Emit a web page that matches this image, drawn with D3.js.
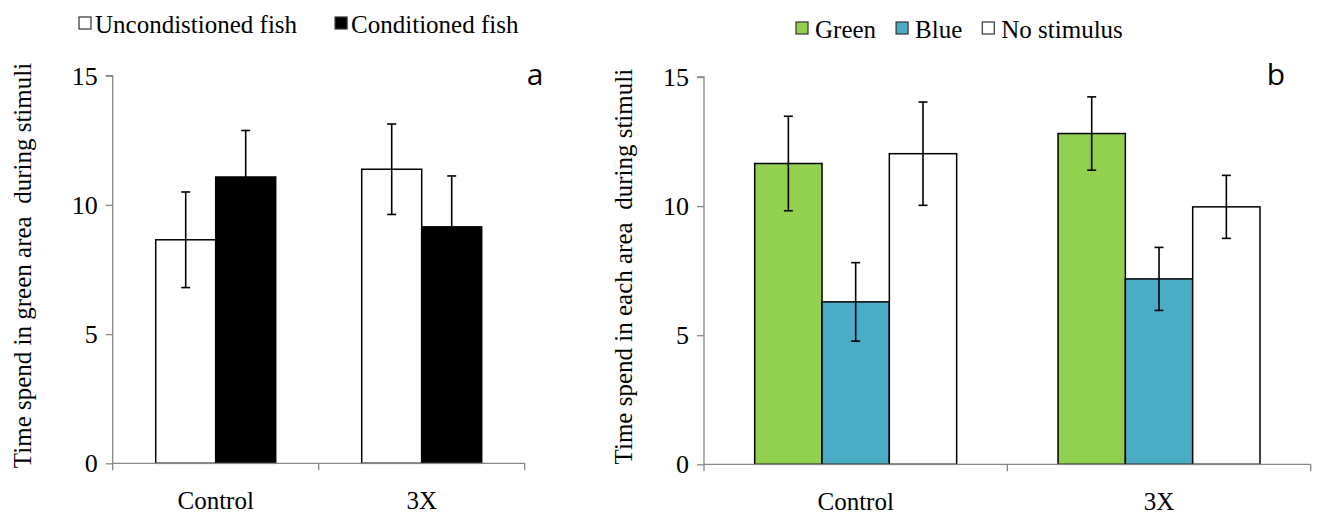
<!DOCTYPE html>
<html><head><meta charset="utf-8">
<script src="https://cdn.jsdelivr.net/npm/d3@7"></script>
<style>
html,body{margin:0;padding:0;background:#fff;}
svg text{font-family:"Liberation Serif","Times New Roman",serif !important;fill:#000;}
svg text.letter{font-family:"Open Sans","Liberation Sans",sans-serif !important;}
</style></head>
<body>
<svg id="c" width="1319" height="515"></svg>
<script>
// ---- data ----
const categories = ["Control", "3X"];
const yTicks = [0, 5, 10, 15];

const seriesA = ["Uncondistioned fish", "Conditioned fish"];
const valuesA_uncond = [8.65, 11.38];
const valuesA_cond   = [11.08, 9.15];
const errA_uncond    = [1.85, 1.75];
const errA_cond      = [1.80, 1.97];

const seriesB = ["Green", "Blue", "No stimulus"];
const valuesB_green = [11.65, 12.81];
const valuesB_blue  = [6.29, 7.18];
const valuesB_none  = [12.03, 9.97];
const errB_green    = [1.83, 1.42];
const errB_blue     = [1.52, 1.22];
const errB_none     = [2.0, 1.22];

const colorsA = ["#ffffff", "#000000"];
const colorsB = ["#92D050", "#4BACC6", "#ffffff"];

const svg = d3.select("#c");
const AXIS = "#868686";
const FS = 25;

function panel(opts) {
  const g = svg.append("g");
  const y = d3.scaleLinear().domain([0, 15]).range([opts.y0, opts.y15]);
  const x0 = d3.scaleBand().domain(categories).range([opts.xl, opts.xr]).padding(0);
  const x1 = d3.scaleBand().domain(opts.series).range([0, x0.bandwidth()]).paddingInner(0).paddingOuter(opts.pad);

  // bars
  opts.series.forEach((s, si) => {
    categories.forEach((c, ci) => {
      const v = opts.values[si][ci];
      g.append("rect")
        .attr("x", x0(c) + x1(s))
        .attr("y", y(v))
        .attr("width", x1.bandwidth())
        .attr("height", y(0) - y(v))
        .attr("fill", opts.colors[si])
        .attr("stroke", "#000").attr("stroke-width", 1.5);
    });
  });
  // error bars
  opts.series.forEach((s, si) => {
    categories.forEach((c, ci) => {
      const v = opts.values[si][ci], e = opts.errs[si][ci];
      const cx = x0(c) + x1(s) + x1.bandwidth() / 2;
      const eg = g.append("g").attr("stroke", "#000").attr("stroke-width", 1.6);
      eg.append("line").attr("x1", cx).attr("x2", cx).attr("y1", y(v + e)).attr("y2", y(v - e));
      eg.append("line").attr("x1", cx - 4.5).attr("x2", cx + 4.5).attr("y1", y(v + e)).attr("y2", y(v + e));
      eg.append("line").attr("x1", cx - 4.5).attr("x2", cx + 4.5).attr("y1", y(v - e)).attr("y2", y(v - e));
    });
  });

  // y axis
  const ya = g.append("g").attr("transform", `translate(${opts.xl},0)`)
    .call(d3.axisLeft(y).tickValues(yTicks).tickSize(7).tickPadding(8).tickFormat(d3.format("d")));
  ya.attr("font-family", null).attr("font-size", null);
  ya.select(".domain").attr("stroke", AXIS).attr("stroke-width", 1.3).attr("d", `M-7,${y(15)}H0V${y(0)}`);
  ya.selectAll(".tick line").attr("stroke", AXIS).attr("stroke-width", 1.3);
  ya.selectAll(".tick text").style("font-size", "26px").attr("fill", "#000");

  // x axis
  const xa = g.append("g");
  xa.append("line").attr("x1", opts.xl).attr("x2", opts.xr).attr("y1", y(0)).attr("y2", y(0))
    .attr("stroke", AXIS).attr("stroke-width", 1.3);
  const bounds = categories.map(c => x0(c)).concat([opts.xr]);
  bounds.forEach(b => {
    xa.append("line").attr("x1", b).attr("x2", b).attr("y1", y(0)).attr("y2", y(0) + 7)
      .attr("stroke", AXIS).attr("stroke-width", 1.3);
  });
  categories.forEach(c => {
    xa.append("text").attr("x", x0(c) + x0.bandwidth() / 2).attr("y", opts.y0 + 46)
      .attr("text-anchor", "middle").style("font-size", FS + "px").text(c);
  });

  // y title
  g.append("text")
    .attr("transform", `translate(${opts.titleX},${(opts.y0 + opts.y15) / 2 - 4}) rotate(-90)`)
    .attr("text-anchor", "middle").style("font-size", FS + "px")
    .style("white-space", "pre")
    .text(opts.title);

  // panel letter
  g.append("text").attr("class", "letter").attr("x", opts.letterX).attr("y", opts.letterY)
    .style("font-size", "30px").attr("text-anchor", "middle").text(opts.letter);

  // legend
  const lg = g.append("g");
  let lx = opts.legendX;
  opts.series.forEach((s, si) => {
    lg.append("rect").attr("x", lx).attr("y", opts.legendY - 16).attr("width", 12).attr("height", 12)
      .attr("fill", opts.colors[si]).attr("stroke", "#333").attr("stroke-width", 1.2);
    const t = lg.append("text").attr("x", lx + 12 + opts.legendPad).attr("y", opts.legendY)
      .style("font-size", FS + "px").style("white-space", "pre").text(s);
    lx += 12 + opts.legendPad + t.node().getComputedTextLength() + opts.legendGap;
  });
}

panel({
  xl: 112.7, xr: 524.7, y0: 463.3, y15: 75.7, pad: 0.717,
  series: seriesA, values: [valuesA_uncond, valuesA_cond], errs: [errA_uncond, errA_cond], colors: colorsA,
  title: "Time spend in green area  during stimuli", titleX: 31,
  letter: "a", letterX: 535, letterY: 85,
  legendX: 79, legendY: 33, legendPad: 4, legendGap: 38
});
panel({
  xl: 704, xr: 1310.7, y0: 464.3, y15: 77, pad: 0.753,
  series: seriesB, values: [valuesB_green, valuesB_blue, valuesB_none], errs: [errB_green, errB_blue, errB_none], colors: colorsB,
  title: "Time spend in each area  during stimuli", titleX: 632,
  letter: "b", letterX: 1276, letterY: 85,
  legendX: 796, legendY: 38, legendPad: 7, legendGap: 20
});
</script>
</body></html>
